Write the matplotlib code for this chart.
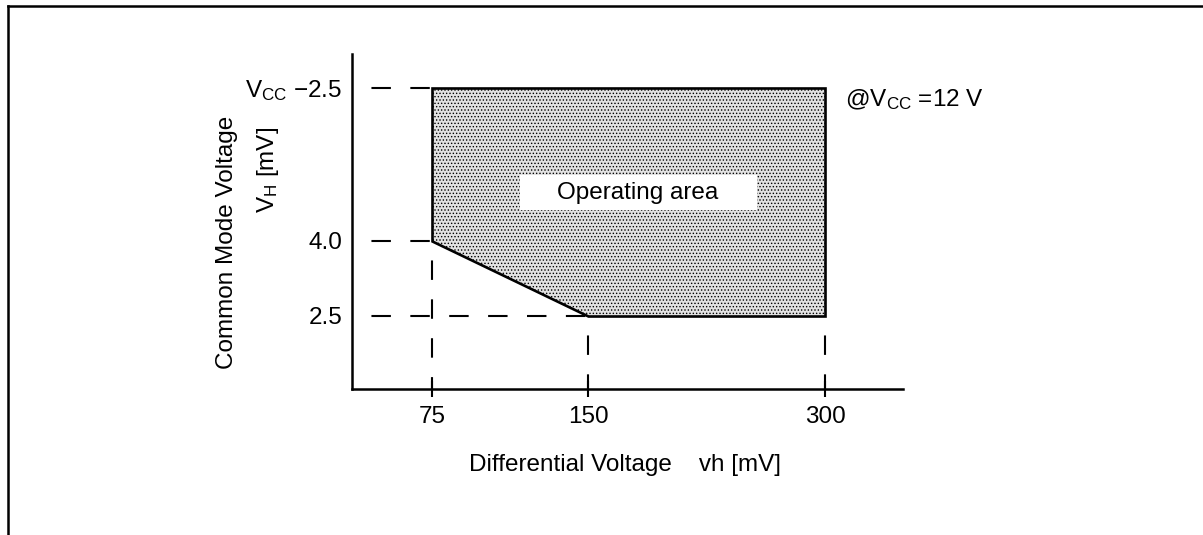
import numpy as np
import matplotlib
matplotlib.use("Agg")
import matplotlib.pyplot as plt
from matplotlib.lines import Line2D
from matplotlib.patches import Rectangle, Polygon

plt.rcParams["font.family"] = "Liberation Sans"
plt.rcParams["font.size"] = 17.5
plt.rcParams["mathtext.default"] = "regular"
plt.rcParams["lines.scale_dashes"] = False
plt.rcParams["hatch.linewidth"] = 0.6
plt.rcParams["hatch.color"] = "#9a9a9a"

# data
VCC = 12.0
diff_ticks = [75, 150, 300]                 # differential voltage vh [mV]
cm_ticks = [2.5, 4.0, VCC - 2.5]            # common mode voltage VH
cm_labels = ["2.5", "4.0", r"$V_{CC}$ $-$2.5"]
area_vh = [75, 75, 300, 300, 150]           # operating area corners
area_cm = [4.0, VCC - 2.5, VCC - 2.5, 2.5, 2.5]

# schematic (non-linear) axes, piecewise linear between the tick values
X_PIX = [0, 156, 393]
Y_PIX = [0, 75, 228]


def piecewise(knots, pix):
    k = np.asarray(knots, float)
    p = np.asarray(pix, float)
    s0 = (p[1] - p[0]) / (k[1] - k[0])
    s1 = (p[-1] - p[-2]) / (k[-1] - k[-2])
    kk = np.r_[k[0] - 1e4, k, k[-1] + 1e4]
    pp = np.r_[p[0] - 1e4 * s0, p, p[-1] + 1e4 * s1]
    return (lambda v: np.interp(v, kk, pp)), (lambda v: np.interp(v, pp, kk))


fig = plt.figure(figsize=(12.03, 5.35), dpi=100)
ax = fig.add_axes([352 / 1203, 1 - 389 / 535, 551 / 1203, 335 / 535])
ax.set_xscale("function", functions=piecewise(diff_ticks, X_PIX))
ax.set_yscale("function", functions=piecewise(cm_ticks, Y_PIX))
ax.set_xlim(36.5, 349.4)
ax.set_ylim(1.04, 10.72)

ax.add_patch(Polygon(list(zip(area_vh, area_cm)), closed=True,
                     facecolor="#e2e2e2", edgecolor="black", linewidth=1.9,
                     hatch=".....", zorder=2))

dash = (14, (14, 14))
x0, y0 = ax.get_xlim()[0], ax.get_ylim()[0]
lw = 1.5
# horizontal guides
ax.plot([x0, diff_ticks[0]], [cm_ticks[2]] * 2, color="black", lw=lw, ls=dash)
ax.plot([x0, diff_ticks[0]], [cm_ticks[1]] * 2, color="black", lw=lw, ls=dash)
ax.plot([x0, diff_ticks[1]], [cm_ticks[0]] * 2, color="black", lw=lw, ls=dash)
# vertical guides
ax.plot([diff_ticks[0]] * 2, [cm_ticks[1], y0], color="black", lw=lw, ls=dash)
ax.plot([diff_ticks[1]] * 2, [cm_ticks[0], y0], color="black", lw=lw, ls=dash)
ax.plot([diff_ticks[2]] * 2, [cm_ticks[0], y0], color="black", lw=lw, ls=dash)

ax.set_xticks(diff_ticks)
ax.set_xticklabels([str(v) for v in diff_ticks])
ax.set_yticks(cm_ticks)
ax.set_yticklabels(cm_labels)
ax.minorticks_off()
ax.tick_params(axis="x", direction="inout", length=12, width=1.5, pad=6)
ax.tick_params(axis="y", length=0, pad=7)
for side in ["top", "right"]:
    ax.spines[side].set_visible(False)
for side in ["left", "bottom"]:
    ax.spines[side].set_linewidth(1.8)

# label box inside the area
ax.add_patch(Rectangle((0.305, 0.534), 0.43, 0.105, transform=ax.transAxes,
                       facecolor="white", edgecolor="none", zorder=3))
ax.text(0.519, 0.585, "Operating area", transform=ax.transAxes,
        ha="center", va="center", zorder=4)

fig.text(845 / 1203, 1 - 100 / 535, r"@$V_{CC}$ =12 V", ha="left", va="center")
fig.text(227 / 1203, 1 - 242 / 535, "Common Mode Voltage", rotation=90,
         ha="center", va="center")
fig.text(268 / 1203, 1 - 170 / 535, r"$V_H$ [mV]", rotation=90,
         ha="center", va="center")
fig.text(625 / 1203, 1 - 465 / 535, "Differential Voltage    vh [mV]",
         ha="center", va="center")

# page frame (top and left edge of the scanned figure box)
fig.add_artist(Line2D([7.5 / 1203, 1], [1 - 6 / 535] * 2, color="black", lw=1.8,
                      transform=fig.transFigure))
fig.add_artist(Line2D([7.5 / 1203] * 2, [0, 1 - 6 / 535], color="black", lw=1.8,
                      transform=fig.transFigure))

fig.savefig("out.png", dpi=100, facecolor="white")
